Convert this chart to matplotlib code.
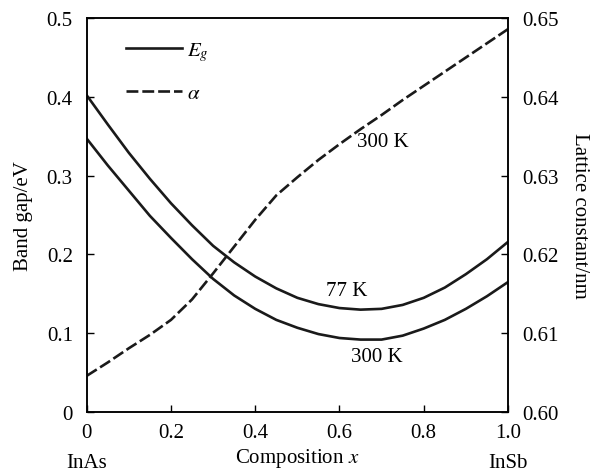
import matplotlib
matplotlib.use("Agg")
import matplotlib.pyplot as plt

plt.rcParams['font.family'] = ['Liberation Serif', 'DejaVu Serif']
plt.rcParams['mathtext.fontset'] = 'stix'

# composition x (InAs -> InSb)
x = [0.0, 0.05, 0.1, 0.15, 0.2, 0.25, 0.3, 0.35, 0.4, 0.45, 0.5,
     0.55, 0.6, 0.65, 0.7, 0.75, 0.8, 0.85, 0.9, 0.95, 1.0]

# band gap, eV
eg_77k = [0.402, 0.365, 0.329, 0.296, 0.265, 0.237, 0.211, 0.190, 0.172, 0.157, 0.145,
          0.137, 0.132, 0.130, 0.131, 0.136, 0.145, 0.158, 0.175, 0.194, 0.216]
eg_300k = [0.347, 0.313, 0.281, 0.249, 0.221, 0.194, 0.169, 0.148, 0.131, 0.117, 0.107,
           0.099, 0.094, 0.092, 0.092, 0.097, 0.106, 0.117, 0.131, 0.147, 0.165]

# lattice constant, nm
lattice = [0.6046, 0.6063, 0.6081, 0.6098, 0.6117, 0.6143, 0.6176, 0.6210, 0.6244, 0.6275, 0.6298,
           0.6320, 0.6340, 0.6359, 0.6377, 0.6396, 0.6414, 0.6432, 0.6450, 0.6468, 0.6486]

x_ticks = [0, 0.2, 0.4, 0.6, 0.8, 1.0]
x_ticklabels = ['0', '0.2', '0.4', '0.6', '0.8', '1.0']
eg_ticks = [0, 0.1, 0.2, 0.3, 0.4, 0.5]
eg_ticklabels = ['0', '0.1', '0.2', '0.3', '0.4', '0.5']
a_ticks = [0.60, 0.61, 0.62, 0.63, 0.64, 0.65]
a_ticklabels = ['0.60', '0.61', '0.62', '0.63', '0.64', '0.65']

fs = 15
lw = 1.9
dash = (0, (4.5, 1.5))

fig = plt.figure(figsize=(5.9, 4.77), dpi=100)
ax = fig.add_axes([0.147, 0.134, 0.714, 0.826])
ax2 = ax.twinx()

ax.plot(x, eg_77k, color='#1a1a1a', lw=lw, label='$E_g$')
ax.plot(x, eg_300k, color='#1a1a1a', lw=lw)
ax2.plot(x, lattice, color='#1a1a1a', lw=lw, ls=dash)
# legend proxy for the dashed curve
ax.plot([], [], color='#1a1a1a', lw=lw, ls=dash, label=r'$\alpha$')

ax.set_xlim(0, 1.0)
ax.set_ylim(0, 0.5)
ax2.set_ylim(0.60, 0.65)

ax.set_xticks(x_ticks)
ax.set_xticklabels(x_ticklabels)
ax.set_yticks(eg_ticks)
ax.set_yticklabels(eg_ticklabels)
ax2.set_yticks(a_ticks)
ax2.set_yticklabels(a_ticklabels)

ax.tick_params(axis='x', direction='in', length=5, width=1, labelsize=fs, pad=8)
ax.tick_params(axis='y', direction='in', length=5, width=1, labelsize=fs, pad=10)
ax2.tick_params(axis='y', direction='in', length=5, width=1, labelsize=fs, pad=10)
for a in (ax, ax2):
    for s in a.spines.values():
        s.set_linewidth(1.1)

ax.set_ylabel('Band gap/eV', fontsize=fs, labelpad=10)
ax2.set_ylabel('Lattice constant/nm', fontsize=fs, rotation=270, labelpad=22)
ax.set_xlabel('Composition $x$', fontsize=fs, labelpad=3)

ax.text(0.0, -0.128, 'InAs', transform=ax.transAxes, fontsize=fs, ha='center', va='center')
ax.text(1.0, -0.128, 'InSb', transform=ax.transAxes, fontsize=fs, ha='center', va='center')

ax.text(0.703, 0.343, '300 K', fontsize=fs, ha='center', va='center')
ax.text(0.618, 0.154, '77 K', fontsize=fs, ha='center', va='center')
ax.text(0.689, 0.071, '300 K', fontsize=fs, ha='center', va='center')

ax.legend(loc='upper left', bbox_to_anchor=(0.093, 0.945), frameon=False, fontsize=fs,
          handlelength=2.7, labelspacing=1.0, handletextpad=0.25,
          borderpad=0, borderaxespad=0)

fig.savefig('out.png', dpi=100)
